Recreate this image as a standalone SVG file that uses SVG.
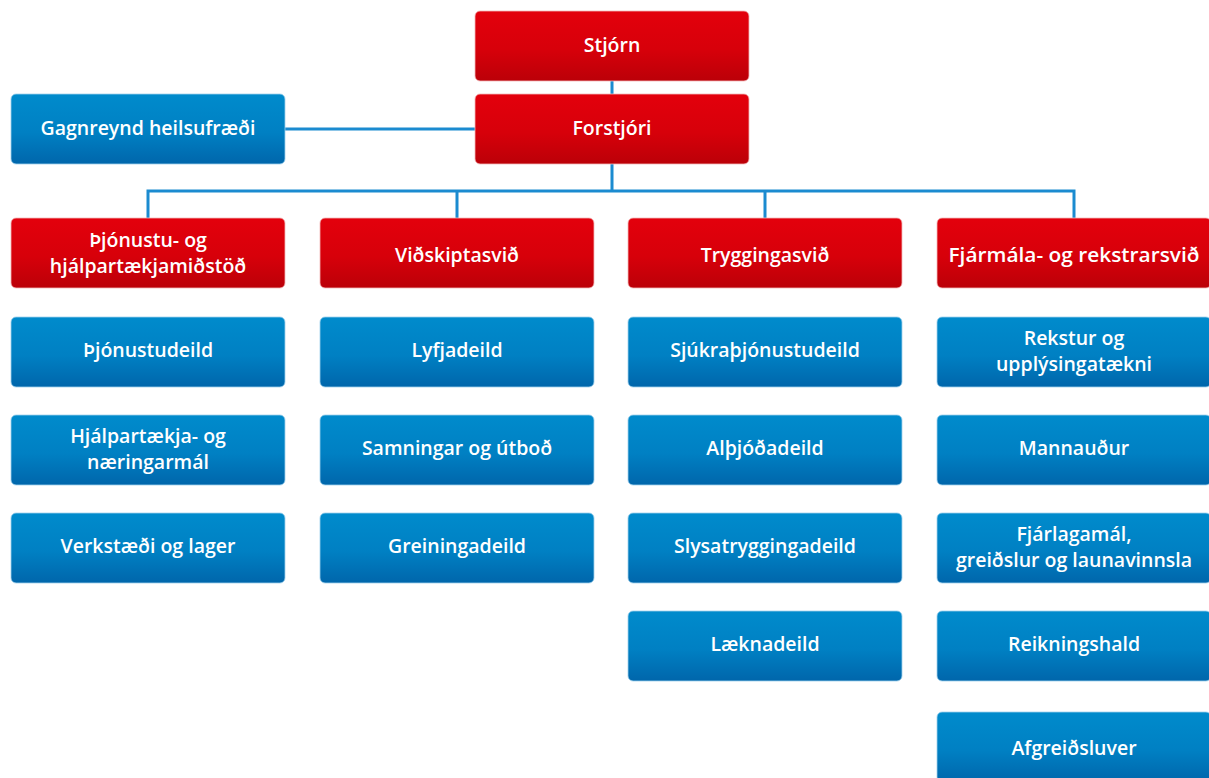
<svg xmlns="http://www.w3.org/2000/svg" width="1209" height="778" viewBox="0 0 1209 778">
<defs>
<linearGradient id="gr" x1="0" y1="0" x2="0" y2="1"><stop offset="0" stop-color="#e3000c"/><stop offset="0.55" stop-color="#d7000a"/><stop offset="1" stop-color="#bb0008"/></linearGradient>
<linearGradient id="gb" x1="0" y1="0" x2="0" y2="1"><stop offset="0" stop-color="#008bcc"/><stop offset="0.55" stop-color="#0080c3"/><stop offset="1" stop-color="#0066ab"/></linearGradient>
<style>
.r{fill:url(#gr);stroke:#f3b7b9;stroke-width:0.8}
.b{fill:url(#gb);stroke:#9fd0ec;stroke-width:0.8}
text{font-family:"Open Sans","Liberation Sans",sans-serif;font-weight:600;font-size:19.5px;fill:#fff;text-anchor:middle}
.c{fill:none;stroke:#1b8bd0;stroke-width:3}
</style>
</defs>
<g id="connectors">
<path class="c" d="M612 81V94M285 129H475M612 164V191M148 191H1074M148 189.5V218M457 189.5V218M765 189.5V218M1074 189.5V218"/>
</g>
<g id="stjorn"><rect class="r" x="475" y="11" width="274" height="70" rx="5"/><text x="612" y="52">Stjórn</text></g>
<g id="forstjori"><rect class="r" x="475" y="94" width="274" height="70" rx="5"/><text x="612" y="135">Forstjóri</text></g>
<g id="gagnreynd"><rect class="b" x="11" y="94" width="274" height="70" rx="5"/><text x="148" y="135">Gagnreynd heilsufræði</text></g>

<g id="thjonustumidstod"><rect class="r" x="11" y="218" width="274" height="70" rx="5"/><text x="148" y="247">Þjónustu- og</text><text x="148" y="273">hjálpartækjamiðstöð</text></g>
<g id="vidskiptasvid"><rect class="r" x="320" y="218" width="274" height="70" rx="5"/><text x="457" y="262">Viðskiptasvið</text></g>
<g id="tryggingasvid"><rect class="r" x="628" y="218" width="274" height="70" rx="5"/><text x="765" y="262">Tryggingasvið</text></g>
<g id="fjarmalasvid"><rect class="r" x="937" y="218" width="274" height="70" rx="5"/><text x="1074" y="262" textLength="251" lengthAdjust="spacingAndGlyphs">Fjármála- og rekstrarsvið</text></g>

<g id="thjonustudeild"><rect class="b" x="11" y="317" width="274" height="70" rx="5"/><text x="148" y="357">Þjónustudeild</text></g>
<g id="hjalpartaekja"><rect class="b" x="11" y="415" width="274" height="70" rx="5"/><text x="148" y="443">Hjálpartækja- og</text><text x="148" y="469">næringarmál</text></g>
<g id="verkstaedi"><rect class="b" x="11" y="513" width="274" height="70" rx="5"/><text x="148" y="553">Verkstæði og lager</text></g>

<g id="lyfjadeild"><rect class="b" x="320" y="317" width="274" height="70" rx="5"/><text x="457" y="357">Lyfjadeild</text></g>
<g id="samningar"><rect class="b" x="320" y="415" width="274" height="70" rx="5"/><text x="457" y="455">Samningar og útboð</text></g>
<g id="greiningadeild"><rect class="b" x="320" y="513" width="274" height="70" rx="5"/><text x="457" y="553">Greiningadeild</text></g>

<g id="sjukrathjonustudeild"><rect class="b" x="628" y="317" width="274" height="70" rx="5"/><text x="765" y="357">Sjúkraþjónustudeild</text></g>
<g id="althjodadeild"><rect class="b" x="628" y="415" width="274" height="70" rx="5"/><text x="765" y="455">Alþjóðadeild</text></g>
<g id="slysatryggingadeild"><rect class="b" x="628" y="513" width="274" height="70" rx="5"/><text x="765" y="553">Slysatryggingadeild</text></g>
<g id="laeknadeild"><rect class="b" x="628" y="611" width="274" height="70" rx="5"/><text x="765" y="651">Læknadeild</text></g>

<g id="rekstur"><rect class="b" x="937" y="317" width="274" height="70" rx="5"/><text x="1074" y="345">Rekstur og</text><text x="1074" y="371">upplýsingatækni</text></g>
<g id="mannaudur"><rect class="b" x="937" y="415" width="274" height="70" rx="5"/><text x="1074" y="455">Mannauður</text></g>
<g id="fjarlagamal"><rect class="b" x="937" y="513" width="274" height="70" rx="5"/><text x="1074" y="541">Fjárlagamál,</text><text x="1074" y="567">greiðslur og launavinnsla</text></g>
<g id="reikningshald"><rect class="b" x="937" y="611" width="274" height="70" rx="5"/><text x="1074" y="651">Reikningshald</text></g>
<g id="afgreidsluver"><rect class="b" x="937" y="712" width="274" height="70" rx="5"/><text x="1074" y="755">Afgreiðsluver</text></g>
</svg>
